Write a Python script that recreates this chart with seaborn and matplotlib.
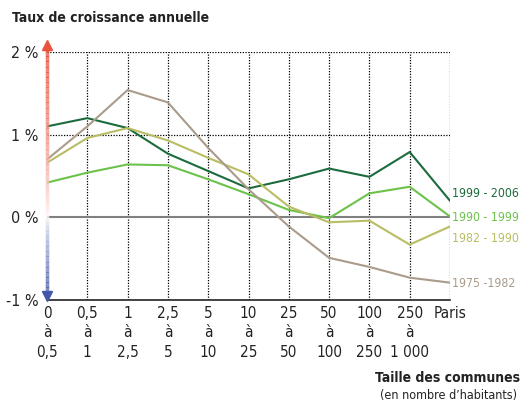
import numpy as np
import pandas as pd
import seaborn as sns
import matplotlib.pyplot as plt
from matplotlib.collections import LineCollection
from matplotlib.colors import to_rgb

# Données (taux de croissance annuelle, en %)
categories = ["0\nà\n0,5", "0,5\nà\n1", "1\nà\n2,5", "2,5\nà\n5", "5\nà\n10", "10\nà\n25",
              "25\nà\n50", "50\nà\n100", "100\nà\n250", "250\nà\n1 000", "Paris"]
periodes = ["1999 - 2006", "1990 - 1999", "1982 - 1990", "1975 -1982"]
taux_1999_2006 = [1.10, 1.20, 1.08, 0.77, 0.56, 0.35, 0.46, 0.59, 0.49, 0.79, 0.20]
taux_1990_1999 = [0.42, 0.54, 0.64, 0.63, 0.46, 0.28, 0.09, -0.01, 0.29, 0.37, 0.01]
taux_1982_1990 = [0.66, 0.96, 1.08, 0.93, 0.72, 0.52, 0.13, -0.06, -0.04, -0.33, -0.11]
taux_1975_1982 = [0.70, 1.10, 1.54, 1.39, 0.84, 0.34, -0.11, -0.49, -0.60, -0.73, -0.79]
yticks = [-1, 0, 1, 2]
ytick_labels = ["-1 %", "0 %", "1 %", "2 %"]

couleurs = ["#1c6b3c", "#6cc24a", "#b9bd64", "#aa9b8b"]
label_y = [0.29, 0.0, -0.25, -0.80]

sns.set_style("white")
plt.rcParams["font.family"] = ["DejaVu Sans"]
plt.rcParams["font.stretch"] = "condensed"

df = pd.DataFrame({
    "pos": list(range(len(categories))) * 4,
    "taux": taux_1999_2006 + taux_1990_1999 + taux_1982_1990 + taux_1975_1982,
    "periode": np.repeat(periodes, len(categories)),
})

fig = plt.figure(figsize=(5.22, 4.03), dpi=100)
ax = fig.add_axes([47 / 522, 1 - 300 / 403, 403 / 522, 248 / 403])

# Grille pointillée
for i in range(1, len(categories)):
    ax.axvline(i, color="black", lw=0.9, ls=(0, (1, 1.2)), zorder=1)
for v in [1, 2]:
    ax.axhline(v, color="black", lw=0.9, ls=(0, (1, 1.2)), zorder=1)
ax.axhline(0, color="#808080", lw=1.5, zorder=1)

sns.lineplot(data=df[::-1], x="pos", y="taux", hue="periode", hue_order=periodes,
             palette=couleurs, legend=False, linewidth=1.5, ax=ax, zorder=3)

# Flèche verticale dégradée
rouge = np.array(to_rgb("#e9543a"))
bleu = np.array(to_rgb("#4257aa"))
ys = np.linspace(-0.97, 2.02, 200)
segs = [[(0, ys[k]), (0, ys[k + 1])] for k in range(len(ys) - 1)]
cols = []
for y in ys[:-1]:
    if y >= 0:
        t = min(y / 2.0, 1) ** 0.7
        cols.append(1 - t * (1 - rouge))
    else:
        t = min(-y, 1) ** 0.7
        cols.append(1 - t * (1 - bleu))
ax.add_collection(LineCollection(segs, colors=cols, linewidths=2.5, zorder=4, clip_on=False))
ax.plot(0, 2.08, marker="^", color=rouge, ms=7, clip_on=False, zorder=5)
ax.plot(0, -0.95, marker="v", color=bleu, ms=7, clip_on=False, zorder=5)

ax.set_xlim(0, len(categories) - 1)
ax.set_ylim(-1, 2)
ax.set_xticks(range(len(categories)))
ax.set_xticklabels(categories, linespacing=1.4, fontsize=11, color="#222222", va="top")
ax.set_yticks(yticks)
ax.set_yticklabels(ytick_labels, fontsize=11.5, color="#222222")
ax.tick_params(axis="both", length=0)
ax.tick_params(axis="x", pad=4)
ax.tick_params(axis="y", pad=6)
ax.set_xlabel("")
ax.set_ylabel("")
for s in ["top", "right", "left"]:
    ax.spines[s].set_visible(False)
ax.spines["bottom"].set_color("#222222")
ax.spines["bottom"].set_linewidth(1.2)

# Étiquettes des séries
for p, c, y in zip(periodes, couleurs, label_y):
    ax.text(len(categories) - 1 + 0.05, y, p, color=c, fontsize=8.8, ha="left", va="center")

fig.text(12 / 522, 1 - 18 / 403, "Taux de croissance annuelle", fontsize=10,
         weight="bold", color="#222222", va="center", ha="left")
fig.text(520 / 522, 1 - 378 / 403, "Taille des communes", fontsize=10,
         weight="bold", color="#222222", va="center", ha="right")
fig.text(517 / 522, 1 - 395 / 403, "(en nombre d’habitants)", fontsize=9,
         color="#222222", va="center", ha="right")

fig.savefig("out.png", dpi=100)
plt.close()
